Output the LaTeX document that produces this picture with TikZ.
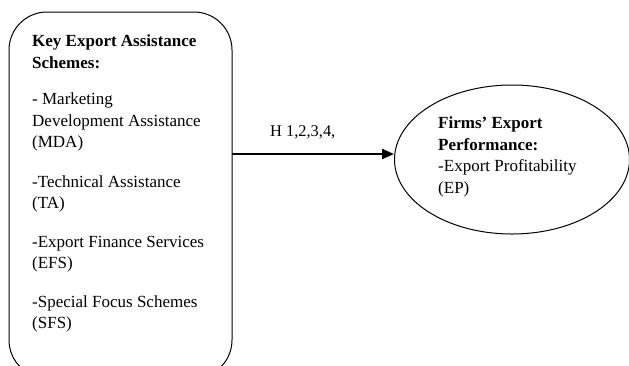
\documentclass[tikz,border=0pt]{standalone}
\usepackage{fontspec}
\setmainfont{Liberation Serif}
\usetikzlibrary{arrows.meta,shapes.geometric}
\tikzset{
  txt/.style={font=\fontsize{17}{21.5}\selectfont, align=left, inner sep=0pt, anchor=base west},
  conn/.style={line width=2.2pt, -{Triangle[length=12pt,width=10pt]}},
}
\begin{document}
\begin{tikzpicture}[x=1pt,y=-1pt]
\useasboundingbox (0,0) rectangle (629,365);
\draw[line width=1pt, rounded corners=38pt] (9,12) rectangle (232,378);
\node[draw, line width=1pt, ellipse, minimum width=235pt, minimum height=149pt, inner sep=0pt] (perf) at (512,159.5) {};
\coordinate (boxr) at (232,154);
\node[txt] (left) at (32,328.5) {\textbf{Key Export Assistance}\\\textbf{Schemes:}\\[15pt]
- Marketing\\Development Assistance\\(MDA)\\[18pt]
-Technical Assistance\\(TA)\\[17pt]
-Export Finance Services\\(EFS)\\[17pt]
-Special Focus Schemes\\(SFS)};
\node[txt, font=\fontsize{17}{21.7}\selectfont] (right) at (438,193.5) {\textbf{Firms’ Export}\\\textbf{Performance:}\\-Export Profitability\\(EP)};
\node[txt, font=\fontsize{16.4}{20}\selectfont] (h) at (270,136) {H 1,2,3,4,};
\draw[conn] (boxr) -- (perf.west |- boxr);
\end{tikzpicture}
\end{document}
